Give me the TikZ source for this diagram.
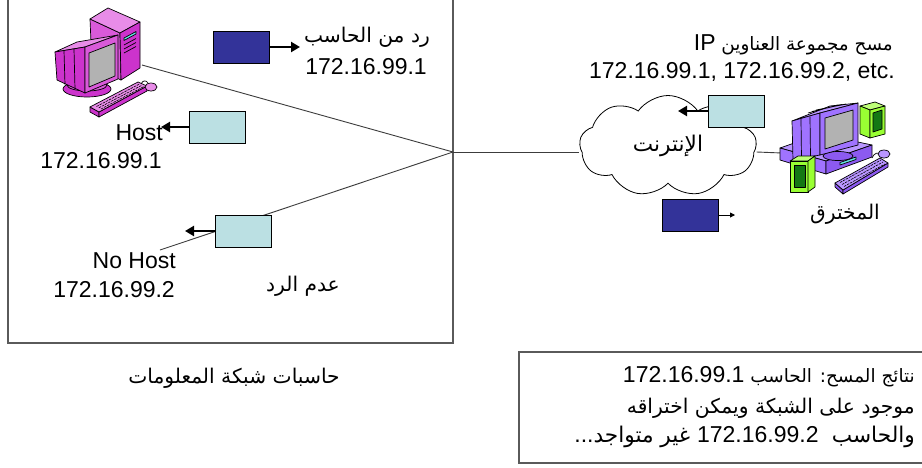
\documentclass[tikz,border=0pt]{standalone}
\usepackage{fontspec}
\setmainfont{Liberation Sans}
\newfontfamily\arabicfont[Script=Arabic,Scale=0.88]{DejaVu Sans}
\newfontfamily\arabicslim[Script=Arabic,Scale=0.8]{DejaVu Sans}
\newfontfamily\arabicmid[Script=Arabic,Scale=0.94]{DejaVu Sans}
\TeXXeTstate=1
\usetikzlibrary{shapes.symbols,arrows.meta}

% right-to-left Arabic run (optional family), and a left-to-right run inside it
\newcommand\artx[2][\arabicfont]{{#1\beginR #2\endR}}
\newcommand\ltr[1]{\beginL{\rmfamily #1}\endL{}}

\definecolor{reqblue}{RGB}{51,51,153}
\definecolor{ansblue}{RGB}{187,224,227}
\definecolor{wiregray}{RGB}{60,60,60}
\definecolor{framegray}{RGB}{90,90,90}
\definecolor{pinkD}{RGB}{204,51,204}
\definecolor{pinkM}{RGB}{217,90,217}
\definecolor{pinkL}{RGB}{232,140,232}
\definecolor{purpD}{RGB}{140,90,240}
\definecolor{purpM}{RGB}{160,115,255}
\definecolor{purpL}{RGB}{185,150,255}
\definecolor{spkG}{RGB}{153,255,51}
\definecolor{spkL}{RGB}{190,255,120}
\definecolor{spkD}{RGB}{20,120,20}
\definecolor{screen}{RGB}{178,178,178}
\definecolor{slot}{RGB}{102,230,230}

\tikzset{
  pkt/.style={draw=black, line width=0.8pt, minimum width=56pt, minimum height=32pt, inner sep=0pt},
  reqpkt/.style={pkt, fill=reqblue},
  anspkt/.style={pkt, fill=ansblue},
  flow/.style={line width=2.8pt, -{Triangle[length=9pt,width=10pt]}},
  thinflow/.style={line width=0.9pt, -{Triangle[length=5pt,width=5pt]}},
  wire/.style={draw=wiregray, line width=0.9pt},
  lbl/.style={inner sep=0pt, font=\fontsize{23}{28}\selectfont},
  pcline/.style={draw=black, line width=0.7pt, line join=round},
  keyrow/.style={draw=black, line width=0.6pt, dash pattern=on 2.5pt off 1pt},
}

\begin{document}
\begin{tikzpicture}[x=1pt, y=-1pt]
\useasboundingbox (0,0) rectangle (922,467);
\fill[white] (0,0) rectangle (922,467);

% ---------------- local network frame ----------------
\draw[draw=framegray, line width=1.1pt] (8,-3) rectangle (453,343);
\coordinate (hub) at (453,152);
\coordinate (pc1in) at (142,65);
\coordinate (nohostend) at (160,250);
\coordinate (pc2in) at (782,153);

% ---------------- internet cloud ----------------
\node[cloud, cloud puffs=9, cloud puff arc=110, cloud ignores aspect,
      draw=black, line width=0.8pt, fill=white,
      minimum width=177pt, minimum height=101pt, inner sep=0pt,
      font=\fontsize{23}{28}\selectfont] (inet) at (668,146) {\artx[\arabicmid]{الإنترنت}};

% ---------------- wires ----------------
\draw[wire] (pc1in) -- (hub);
\draw[wire] (hub) -- (nohostend);
\draw[wire] (hub) -- (inet.west |- hub);
\draw[wire] (inet.east |- hub) -- (pc2in);

% ---------------- packets ----------------
\node[reqpkt] (req1) at (241,47) {};
\coordinate (req1tip) at (300,47);
\draw[flow] (req1.east) -- (req1tip);

\node[anspkt] (ans1) at (217.5,127) {};
\coordinate (ans1tip) at (161,127);
\draw[flow] (ans1.west) -- (ans1tip);

\node[anspkt] (ans2) at (243.5,231) {};
\coordinate (ans2tip) at (185,231);
\draw[flow] (ans2.west) -- (ans2tip);

\node[anspkt] (ans3) at (736,111) {};
\coordinate (ans3tip) at (678,111);
\draw[flow] (ans3.west) -- (ans3tip);

\node[reqpkt] (req2) at (690.5,215) {};
\coordinate (req2tip) at (735,215);
\draw[thinflow] (req2.east) -- (req2tip);

% ---------------- host computer (pink) ----------------
% monitor stand
\filldraw[pcline, fill=pinkD] (87,89) ellipse (24 and 8);
\filldraw[pcline, fill=pinkM] (87,85) ellipse (20 and 6);
% tower
\filldraw[pcline, fill=pinkM] (90,19) -- (120,33) -- (121,80) -- (92,66) -- cycle;
\filldraw[pcline, fill=pinkL] (90,19) -- (108,8) -- (140,22) -- (120,33) -- cycle;
\filldraw[pcline, fill=pinkD] (120,33) -- (140,22) -- (140,68) -- (121,80) -- cycle;
\filldraw[pcline, fill=slot] (124,38) -- (136,31.5) -- (136,34) -- (124,40.5) -- cycle;
\draw[pcline] (124,45) -- (136,38.5) (124,49) -- (136,42.5) (124,53) -- (136,46.5);
% monitor housing
\filldraw[pcline, fill=pinkL] (55,52) -- (77,42) -- (118,35) -- (85,47) -- cycle;
\filldraw[pcline, fill=pinkD] (55,52) -- (85,47) -- (85,93) -- (57,80) -- cycle;
\draw[pcline] (64,50.5) -- (65,84.5) (74,49) -- (75,89);
\filldraw[pcline, fill=pinkM] (85,47) -- (118,35) -- (118,79) -- (85,93) -- cycle;
\filldraw[pcline, fill=screen] (89,53) -- (115,43) -- (115,76) -- (89,87) -- cycle;
% keyboard
\filldraw[pcline, fill=pinkD] (90,107) -- (99,112) -- (99,117) -- (90,112) -- cycle;
\filldraw[pcline, fill=pinkD] (99,112) -- (147,86) -- (147,91) -- (99,117) -- cycle;
\filldraw[pcline, fill=pinkL] (90,107) -- (138,82) -- (147,86) -- (99,112) -- cycle;
\draw[keyrow] (96.5,106.5) -- (139.5,84) (98.8,107.8) -- (141.8,85.3) (101,109) -- (144,86.5);
% mouse and cable
\draw[pcline] (141,84) .. controls (143,80) and (146,80) .. (148,83);
\filldraw[pcline, fill=pinkL] (151,87) ellipse (6 and 4);

% ---------------- attacker computer (purple) ----------------
% desktop case
\filldraw[pcline, fill=purpL] (780,148) -- (820,134) -- (872,145) -- (826,161) -- cycle;
\filldraw[pcline, fill=purpM] (780,148) -- (826,161) -- (826,174) -- (780,160) -- cycle;
\filldraw[pcline, fill=purpD] (826,161) -- (872,145) -- (872,157) -- (826,174) -- cycle;
\filldraw[pcline, fill=slot] (840,162.5) -- (856,157) -- (856,159.5) -- (840,165) -- cycle;
% monitor
\filldraw[pcline, fill=purpD] (838,156) ellipse (15 and 4.5);
\filldraw[pcline, fill=purpL] (792,121) -- (830,106) -- (858,103) -- (820,113) -- cycle;
\draw[pcline] (808,113) -- (838,105) (812,111.5) -- (842,104.5) (816,110) -- (846,104);
\filldraw[pcline, fill=purpM] (792,121) -- (820,113) -- (820,155) -- (793,160) -- cycle;
\draw[pcline] (801,119) -- (801.5,158.5) (810,116.5) -- (810.5,157);
\filldraw[pcline, fill=purpM] (820,113) -- (858,103) -- (858,145) -- (820,155) -- cycle;
\filldraw[pcline, fill=screen] (825,118) -- (853,110) -- (853,140) -- (825,149) -- cycle;
% right speaker
\filldraw[pcline, fill=spkL] (860,106) -- (875,102) -- (885,106) -- (870,110) -- cycle;
\filldraw[pcline, fill=spkG] (860,106) -- (870,110) -- (870,138) -- (860,134) -- cycle;
\filldraw[pcline, fill=spkG] (870,110) -- (885,106) -- (885,134) -- (870,138) -- cycle;
\filldraw[pcline, fill=spkD] (873,113) -- (882,110) -- (882,129) -- (873,132) -- cycle;
% left speaker
\filldraw[pcline, fill=spkL] (790,161) -- (798,156) -- (815,156) -- (808,161) -- cycle;
\filldraw[pcline, fill=spkG] (790,161) -- (808,161) -- (808,192) -- (790,192) -- cycle;
\filldraw[pcline, fill=spkG] (808,161) -- (815,156) -- (815,187) -- (808,192) -- cycle;
\filldraw[pcline, fill=spkD] (794,165) -- (805,165) -- (805,187) -- (794,187) -- cycle;
% keyboard
\filldraw[pcline, fill=purpD] (835,183) -- (843,190) -- (843,194) -- (835,187) -- cycle;
\filldraw[pcline, fill=purpD] (843,190) -- (888,163) -- (888,167) -- (843,194) -- cycle;
\filldraw[pcline, fill=purpL] (835,183) -- (880,158) -- (888,163) -- (843,190) -- cycle;
\draw[keyrow] (840,182.5) -- (881,160) (842,184.5) -- (883,162) (844,186.5) -- (885,164);
% mouse
\draw[pcline] (872,158) .. controls (874,153) and (878,152) .. (880,154);
\filldraw[pcline, fill=purpL] (884,154) ellipse (6 and 4);

% ---------------- labels ----------------
\node[lbl, anchor=base east] (rep1) at (430,42) {\artx{رد من الحاسب}};
\node[lbl, anchor=base east] (rep1ip) at (427,74) {172.16.99.1};
\node[lbl, anchor=base east] (host1) at (163,140) {Host};
\node[lbl, anchor=base east] (host1ip) at (162,168) {172.16.99.1};
\node[lbl, anchor=base east] (host2) at (176,268) {No Host};
\node[lbl, anchor=base east] (host2ip) at (175,297) {172.16.99.2};
\node[lbl, anchor=base] (noreply) at (303,291) {\artx{عدم الرد}};
\node[lbl, anchor=base] (lancap) at (234,383) {\artx{حاسبات شبكة المعلومات}};

\node[lbl, anchor=base east] (scan) at (893,50) {\artx[\arabicslim]{مسح مجموعة العناوين \ltr{IP}}};
\node[lbl, anchor=base east] (scanip) at (895,78) {172.16.99.1, 172.16.99.2, etc.};
\node[lbl, anchor=base] (attacker) at (845,219) {\artx{المخترق}};

% ---------------- scan results ----------------
\draw[draw=framegray, line width=1.1pt] (519,352) rectangle (935,463);
\node[lbl, anchor=base east] (res1) at (915,382) {\artx[\arabicslim]{نتائج المسح: الحاسب \ltr{172.16.99.1}}};
\node[lbl, anchor=base east] (res2) at (915,413) {\artx{موجود على الشبكة ويمكن اختراقه}};
\node[lbl, anchor=base east] (res3) at (915,442) {\artx[\arabicmid]{والحاسب \ltr{172.16.99.2\ } غير متواجد\ltr{...}}};
\end{tikzpicture}
\end{document}
